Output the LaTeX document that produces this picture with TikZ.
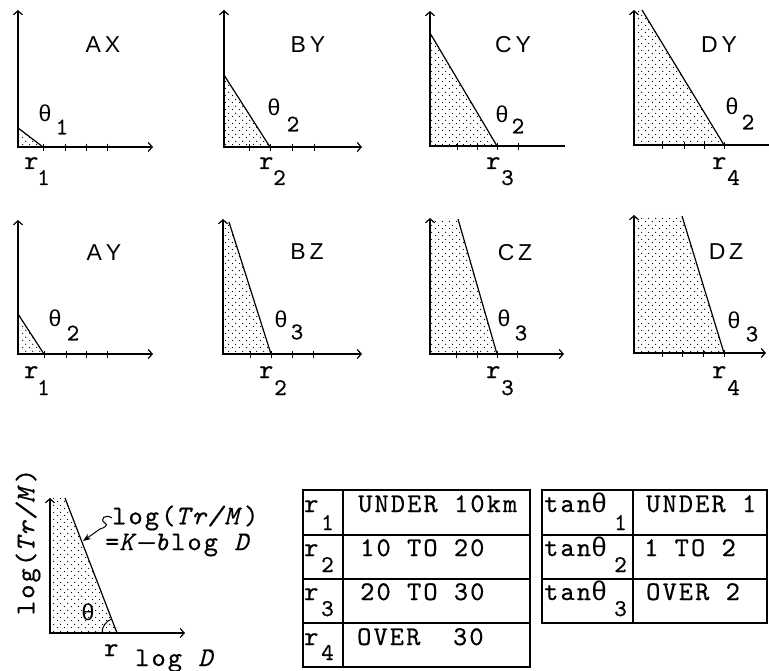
\documentclass[tikz,border=0pt]{standalone}
\usepackage{fontspec}
\usetikzlibrary{arrows.meta,patterns}
\newfontfamily\monof[ItalicFont=lmmono10-italic.otf, LetterSpace=8, FakeBold=0.5]{lmmono10-regular.otf}
\newfontfamily\grkf{Liberation Mono}
\newfontfamily\sansf{Liberation Sans}
\newcommand\bigtt{\monof\fontsize{27}{30}\selectfont}
\newcommand\smtt{\monof\fontsize{24}{27}\selectfont}
\newcommand\thtt{\grkf\fontsize{23}{26}\selectfont}
\newcommand\lblf{\sansf\fontsize{23}{26}\selectfont}
\newcommand\thg{{\grkf θ}}
\pgfdeclarepatternformonly{stipple}{\pgfqpoint{0pt}{0pt}}{\pgfqpoint{7pt}{7pt}}{\pgfqpoint{7pt}{7pt}}{%
  \pgfpathcircle{\pgfqpoint{1.75pt}{1.75pt}}{0.7pt}%
  \pgfpathcircle{\pgfqpoint{5.25pt}{5.25pt}}{0.7pt}%
  \pgfusepath{fill}}
\tikzset{
 xyaxes/.style={line width=1.2pt,{Straight Barb[length=4pt,width=9pt]}-{Straight Barb[length=4pt,width=9pt]}},
 slopeline/.style={line width=1.2pt},
 tickmark/.style={line width=1pt},
 dotfill/.style={pattern=stipple, pattern color=black},
 lab/.style={inner sep=0pt, font=\lblf},
 th/.style={inner sep=0pt, font=\thtt},
 sb/.style={inner sep=0pt, font=\smtt},
 tx/.style={inner sep=0pt, font=\bigtt},
 txw/.style={inner sep=0pt, font=\bigtt, anchor=base west},
 sbw/.style={inner sep=0pt, font=\smtt, anchor=base west},
 tabline/.style={line width=1.3pt}
}
% name, ox, oy, axis top y, axis end x, shade top y, slope top x, slope bottom x, ticks
\newcommand\panel[9]{%
 \coordinate (#1O) at (#2,#3);
 \coordinate (#1T) at (#2,#4);
 \coordinate (#1E) at (#5,#3);
 \coordinate (#1C) at (#2,#6);
 \coordinate (#1A) at (#7,#6);
 \coordinate (#1B) at (#8,#3);
 \fill[dotfill] (#1C) -- (#1A) -- (#1B) -- (#1O) -- cycle;
 \draw[slopeline] (#1A) -- (#1B);
 \draw[xyaxes] (#1T) -- (#1O) -- (#1E);
 \foreach \tk in {#9} {\draw[tickmark] (\tk,#3-3) -- (\tk,#3+4);}
}
\begin{document}
\begin{tikzpicture}[x=1pt,y=-1pt]
\useasboundingbox (0,0) rectangle (769,671);
% ---------- top row ----------
\panel{AX}{18}{147}{10}{153}{128}{18}{43}{43,65,86,107}
\panel{BY}{224}{147}{10}{362}{75}{224}{270}{249,270,292,314}
\begin{scope}[xyaxes/.style={line width=1.2pt,{Straight Barb[length=4pt,width=9pt]}-}]
\panel{CY}{430}{146}{11}{565}{33}{430}{497}{457,477,497,518}
\panel{DY}{634}{145}{10}{769}{10}{642}{724}{662,684,704,724}
\end{scope}
\node[lab] (AXl) at (103,45) {A\,X};
\node[th] (AXt) at (45,113) {θ};
\node[sb] (AXs) at (62,127) {1};
\node[txw] (AXr) at (24,169) {r};
\node[sbw] (AXrs) at (37,185) {1};

\node[lab] (BYl) at (308,45) {B\,Y};
\node[th] (BYt) at (274,107) {θ};
\node[sb] (BYs) at (293,124) {2};
\node[txw] (BYr) at (259,169) {r};
\node[sbw] (BYrs) at (273,185) {2};

\node[lab] (CYl) at (513,45) {C\,Y};
\node[th] (CYt) at (502,114) {θ};
\node[sb] (CYs) at (518,126) {2};
\node[txw] (CYr) at (486,169) {r};
\node[sbw] (CYrs) at (501,185) {3};

\node[lab] (DYl) at (719,45) {D\,Y};
\node[th] (DYt) at (732,106) {θ};
\node[sb] (DYs) at (748,122) {2};
\node[txw] (DYr) at (712,169) {r};
\node[sbw] (DYrs) at (727,185) {4};
% ---------- second row ----------
\panel{AY}{18}{354}{220}{153}{314}{18}{44}{44,66,86,107}
\panel{BZ}{223}{354}{219}{362}{222}{229}{271}{250,271,292,313}
\panel{CZ}{430}{354}{218}{564}{219}{458}{497}{456,477,497,517}
\panel{DZ}{634}{353}{215}{766}{216}{682}{724}{662,682,703,724}

\node[lab] (AYl) at (104,253) {A\,Y};
\node[th] (AYt) at (55,318) {θ};
\node[sb] (AYs) at (73,333) {2};
\node[txw] (AYr) at (24,378) {r};
\node[sbw] (AYrs) at (37,395) {1};

\node[lab] (BZl) at (307,252) {B\,Z};
\node[th] (BZt) at (281,319) {θ};
\node[sb] (BZs) at (297,332) {3};
\node[txw] (BZr) at (259,378) {r};
\node[sbw] (BZrs) at (274,395) {2};

\node[lab] (CZl) at (515,253) {C\,Z};
\node[th] (CZt) at (504,318) {θ};
\node[sb] (CZs) at (521,333) {3};
\node[txw] (CZr) at (486,378) {r};
\node[sbw] (CZrs) at (501,395) {3};

\node[lab] (DZl) at (726,252) {D\,Z};
\node[th] (DZt) at (734,320) {θ};
\node[sb] (DZs) at (752,334) {3};
\node[txw] (DZr) at (712,378) {r};
\node[sbw] (DZrs) at (727,395) {4};
% ---------- bottom-left general panel ----------
\coordinate (LO) at (50,633);
\coordinate (LT) at (50,498);
\coordinate (LE) at (185,633);
\coordinate (LA) at (65,498);
\coordinate (LB) at (117,633);
\coordinate (hit) at (83,541);
\fill[dotfill] (LT) -- (LA) -- (LB) -- (LO) -- cycle;
\draw[slopeline] (LA) -- (LB);
\draw[xyaxes] (LT) -- (LO) -- (LE);
\draw[line width=1pt] (LB) ++(180:15) arc (180:249:15);
\node[th] (Lth) at (88,612) {θ};
\node[txw] (Lr) at (104,656) {r};
\node[txw] (Lx) at (135,666) {log \textit{D}};
\node[tx, rotate=90] (Ly) at (28,542) {log(\textit{Tr/M})};
\node[tx, anchor=west] (ann1) at (112,518) {log(\textit{Tr/M})};
\node[tx, anchor=west] (ann2) at (105,545) {=\textit{K}{\grkf —}\textit{b}log \textit{D}};
\draw[line width=1pt,-{Stealth[length=8pt,width=6pt]}] (ann1.west) .. controls (105,513) and (99,520) .. (105,523) .. controls (109,525) and (104,528) .. (100,529) -- (hit);
% ---------- table 1 ----------
\draw[tabline] (303,490) rectangle (530,667);
\draw[tabline] (303,535) -- (530,535) (303,579) -- (530,579) (303,623) -- (530,623) (343,490) -- (343,667);
\node[txw] (t1r1) at (304,512) {r};
\node[sbw] (t1s1) at (321,530) {1};
\node[txw] (t1v1) at (358,512) {UNDER 10km};
\node[txw] (t1r2) at (304,556) {r};
\node[sbw] (t1s2) at (321,572) {2};
\node[txw] (t1v2) at (360,556) {10 TO 20};
\node[txw] (t1r3) at (304,600) {r};
\node[sbw] (t1s3) at (321,616) {3};
\node[txw] (t1v3) at (360,600) {20 TO 30};
\node[txw] (t1r4) at (304,645) {r};
\node[sbw] (t1s4) at (321,660) {4};
\node[txw] (t1v4) at (357,645) {OVER\ \ 30};
% ---------- table 2 ----------
\draw[tabline] (542,490) rectangle (767,623);
\draw[tabline] (542,535) -- (767,535) (542,579) -- (767,579) (633,490) -- (633,623);
\node[txw] (t2r1) at (544,512) {tan\thg};
\node[sbw] (t2s1) at (614,530) {1};
\node[txw] (t2v1) at (646,512) {UNDER 1};
\node[txw] (t2r2) at (544,556) {tan\thg};
\node[sbw] (t2s2) at (614,572) {2};
\node[txw] (t2v2) at (644,556) {1 TO 2};
\node[txw] (t2r3) at (544,600) {tan\thg};
\node[sbw] (t2s3) at (614,616) {3};
\node[txw] (t2v3) at (646,600) {OVER 2};
\end{tikzpicture}
\end{document}
